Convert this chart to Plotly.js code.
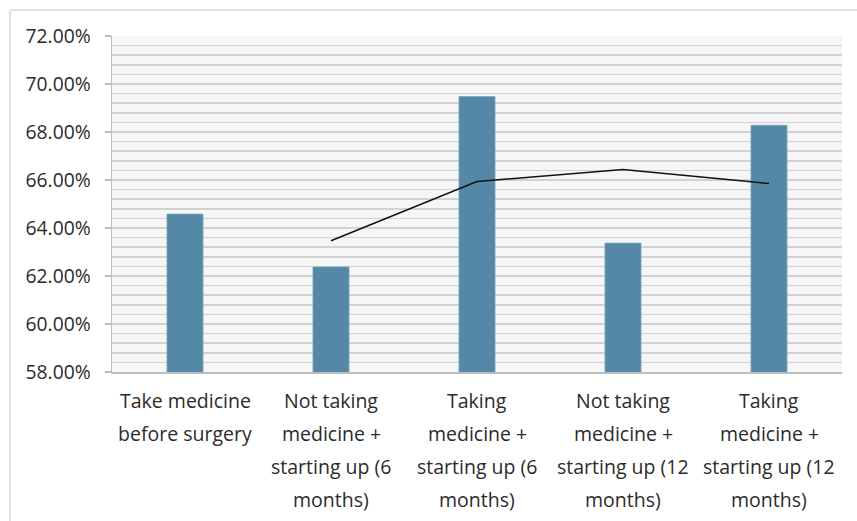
<!DOCTYPE html>
<html>
<head>
<meta charset="utf-8">
<script src="https://cdn.plot.ly/plotly-3.0.1.min.js"></script>
<style>
html,body{margin:0;padding:0;background:#fff;}
#chart{width:857px;height:521px;}
</style>
</head>
<body>
<div id="chart"></div>
<script>
// Data (percent)
var categories = ["c1", "c2", "c3", "c4", "c5"];
var labelLines = [
  ["Take medicine", "before surgery"],
  ["Not taking", "medicine +", "starting up (6", "months)"],
  ["Taking", "medicine +", "starting up (6", "months)"],
  ["Not taking", "medicine +", "starting up (12", "months)"],
  ["Taking", "medicine +", "starting up (12", "months)"]
];
var barValues = [64.58, 62.38, 69.48, 63.37, 68.28];
var trendValues = [null, 63.47, 65.94, 66.44, 65.85];
var yTickVals = [58, 60, 62, 64, 66, 68, 70, 72];

var fontFamily = "'Open Sans', 'Noto Sans', sans-serif";
var textColor = "#2b2b2b";

var traces = [
  {
    type: "bar",
    x: categories,
    y: barValues,
    width: 0.247,
    marker: {color: "#5588a6", line: {color: "#7ea7bf", width: 0.8}},
    hoverinfo: "skip",
    showlegend: false
  },
  {
    type: "scatter",
    mode: "lines",
    x: categories,
    y: trendValues,
    line: {color: "#111111", width: 1.5},
    connectgaps: false,
    hoverinfo: "skip",
    showlegend: false
  }
];

var annotations = [];
var lineOffsets = [-28, -61, -94, -127];
labelLines.forEach(function (lines, i) {
  lines.forEach(function (txt, j) {
    annotations.push({
      xref: "x", yref: "paper",
      x: categories[i], y: 0,
      yanchor: "middle", xanchor: "center",
      yshift: lineOffsets[j],
      text: txt, showarrow: false,
      font: {family: fontFamily, size: 19.5, color: textColor}
    });
  });
});

var layout = {
  width: 857, height: 521,
  margin: {l: 112, r: 15, t: 36, b: 149},
  paper_bgcolor: "#ffffff",
  plot_bgcolor: "#f6f6f6",
  bargap: 0,
  xaxis: {
    type: "category",
    showticklabels: false,
    showgrid: false,
    zeroline: false,
    showline: true,
    linecolor: "#bdbdbd",
    linewidth: 1.5,
    ticks: "",
    fixedrange: true
  },
  yaxis: {
    range: [58, 72],
    tickvals: yTickVals,
    ticktext: yTickVals.map(function (v) { return v.toFixed(2) + "%"; }),
    tickfont: {family: fontFamily, size: 19.3, color: textColor},
    ticks: "outside",
    ticklen: 6,
    tickcolor: "#bdbdbd",
    tickwidth: 1.5,
    ticklabelstandoff: 10,
    showline: true,
    linecolor: "#bdbdbd",
    linewidth: 1.5,
    showgrid: true,
    gridcolor: "#d2d2d2",
    gridwidth: 1.5,
    zeroline: false,
    minor: {dtick: 0.4, tick0: 58, showgrid: true, gridcolor: "#d2d2d2", gridwidth: 1.5, ticks: ""},
    fixedrange: true
  },
  annotations: annotations,
  shapes: [
    {type: "line", xref: "paper", yref: "paper", x0: -0.1397, x1: 1.03, y0: 1.0774, y1: 1.0774,
     line: {color: "#d9d9d9", width: 1.5}},
    {type: "line", xref: "paper", yref: "paper", x0: -0.1397, x1: -0.1397, y0: 1.0774, y1: -0.46,
     line: {color: "#d9d9d9", width: 1.5}}
  ]
};

Plotly.newPlot("chart", traces, layout, {displayModeBar: false, staticPlot: true});
</script>
</body>
</html>
